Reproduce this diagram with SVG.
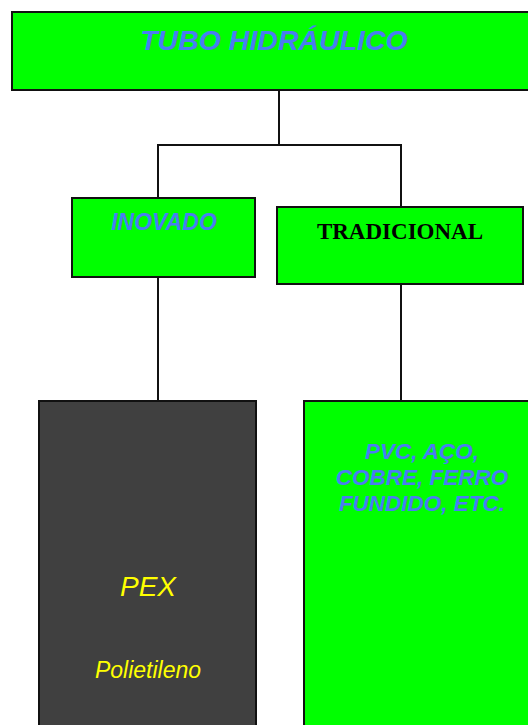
<svg xmlns="http://www.w3.org/2000/svg" width="528" height="725" viewBox="0 0 528 725">
  <style>
    .box { fill: #00ff00; stroke: #111; stroke-width: 2; }
    .dark { fill: #404040; stroke: #111; stroke-width: 2; }
    .blue { font-family: "Liberation Sans", Arial, sans-serif; font-weight: bold; font-style: italic; fill: #4a7cf2; text-anchor: middle; }
    .yellow { font-family: "Liberation Sans", Arial, sans-serif; font-style: italic; fill: #ffff00; text-anchor: middle; }
    .serif { font-family: "Liberation Serif", "Times New Roman", serif; font-weight: bold; fill: #000; text-anchor: middle; }
    .link { fill: none; stroke: #111; stroke-width: 2; }
  </style>
  <rect width="528" height="725" fill="#fff"/>

  <g id="connectors">
    <path class="link" d="M279 90 V145 M158 198 V145 H401 V207"/>
    <path class="link" d="M158 277 V401"/>
    <path class="link" d="M401 284 V401"/>
  </g>

  <g id="tubo-hidraulico">
    <rect class="box" x="12" y="12" width="526" height="78"/>
    <text class="blue" x="274" y="50" font-size="28.5">TUBO HIDRÁULICO</text>
  </g>

  <g id="inovado">
    <rect class="box" x="72" y="198" width="183" height="79"/>
    <text class="blue" x="164" y="230" font-size="23">INOVADO</text>
  </g>

  <g id="tradicional">
    <rect class="box" x="277" y="207" width="246" height="77"/>
    <text class="serif" x="400" y="239" font-size="23">TRADICIONAL</text>
  </g>

  <g id="pex">
    <rect class="dark" x="39" y="401" width="217" height="340"/>
    <text class="yellow" x="148" y="596" font-size="28">PEX</text>
    <text class="yellow" x="148" y="678" font-size="23">Polietileno</text>
  </g>

  <g id="materiais">
    <rect class="box" x="304" y="401" width="240" height="340"/>
    <text class="blue" x="422" y="459" font-size="22.5">PVC, AÇO,</text>
    <text class="blue" x="422" y="485" font-size="22.5">COBRE, FERRO</text>
    <text class="blue" x="422" y="511" font-size="22.5">FUNDIDO, ETC.</text>
  </g>
</svg>
